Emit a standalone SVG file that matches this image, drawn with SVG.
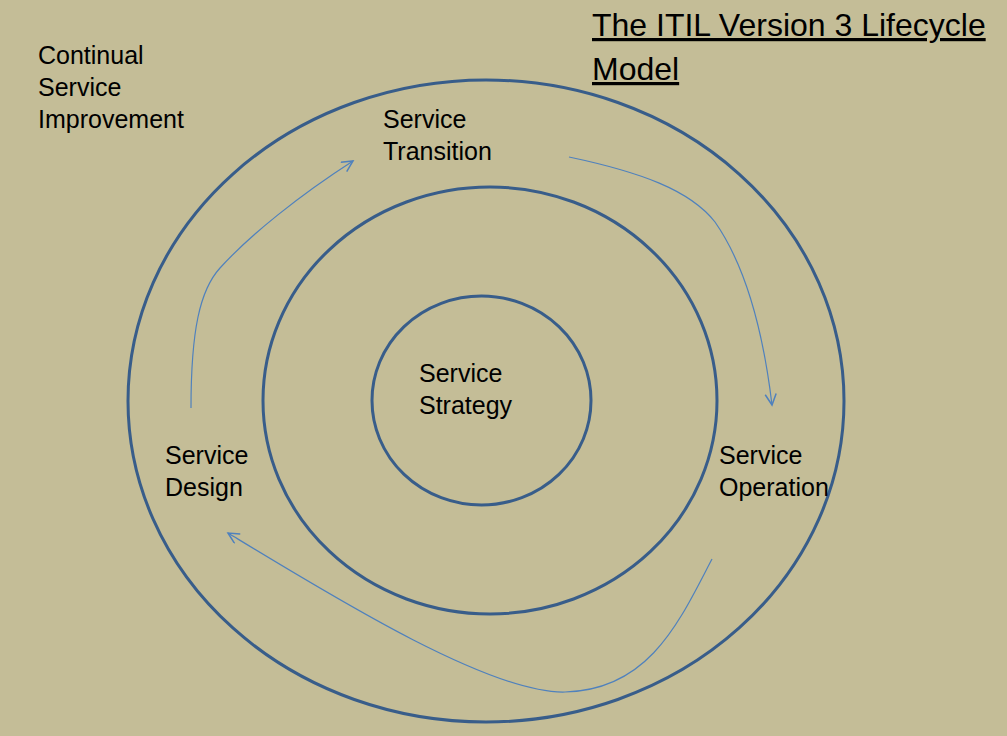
<svg xmlns="http://www.w3.org/2000/svg" width="1007" height="736" viewBox="0 0 1007 736">
<style>
.ring{fill:none;stroke:#385D8A;stroke-width:3}
.lbl{font-family:"Liberation Sans",Arial,sans-serif;font-size:25px;fill:#000}
.title{font-family:"Liberation Sans",Arial,sans-serif;font-size:32px;fill:#000;text-decoration:underline}
.flow{fill:none;stroke:#4F81BD;stroke-width:1.2;marker-end:url(#arr)}
</style>
<defs>
<marker id="arr" markerUnits="userSpaceOnUse" markerWidth="16" markerHeight="16" refX="12" refY="6" orient="auto">
<path d="M1,0.5 L12,6 L1,11.5" fill="none" stroke="#4F81BD" stroke-width="1.5"/>
</marker>
</defs>
<rect width="1007" height="736" fill="#C4BD97"/>
<g id="title">
<text class="title" x="592" y="36">The ITIL Version 3 Lifecycle</text>
<text class="title" x="592" y="80">Model</text>
</g>
<g id="continual-service-improvement">
<ellipse class="ring" cx="486" cy="401" rx="358" ry="321"/>
<text class="lbl" x="38" y="64">Continual</text>
<text class="lbl" x="38" y="96">Service</text>
<text class="lbl" x="38" y="128">Improvement</text>
</g>
<g id="lifecycle-ring">
<ellipse class="ring" cx="490" cy="400.5" rx="227" ry="213.5"/>
</g>
<g id="service-strategy">
<ellipse class="ring" cx="481.5" cy="400.5" rx="109.5" ry="104.5"/>
<text class="lbl" x="419" y="382">Service</text>
<text class="lbl" x="419" y="414">Strategy</text>
</g>
<g id="service-transition">
<text class="lbl" x="383" y="128">Service</text>
<text class="lbl" x="383" y="160">Transition</text>
</g>
<g id="service-operation">
<text class="lbl" x="719" y="464">Service</text>
<text class="lbl" x="719" y="496">Operation</text>
</g>
<g id="service-design">
<text class="lbl" x="165" y="464">Service</text>
<text class="lbl" x="165" y="496">Design</text>
</g>
<g id="connectors">
<path class="flow" d="M191,408 C191,330 200,290 220,268 C250,235 300,195 353,161"/>
<path class="flow" d="M569,157 C640,172 690,190 715,222 C745,265 763,330 772,405"/>
<path class="flow" d="M712,559 C680,620 650,690 565,692 C490,694 330,595 228,533"/>
</g>
</svg>
